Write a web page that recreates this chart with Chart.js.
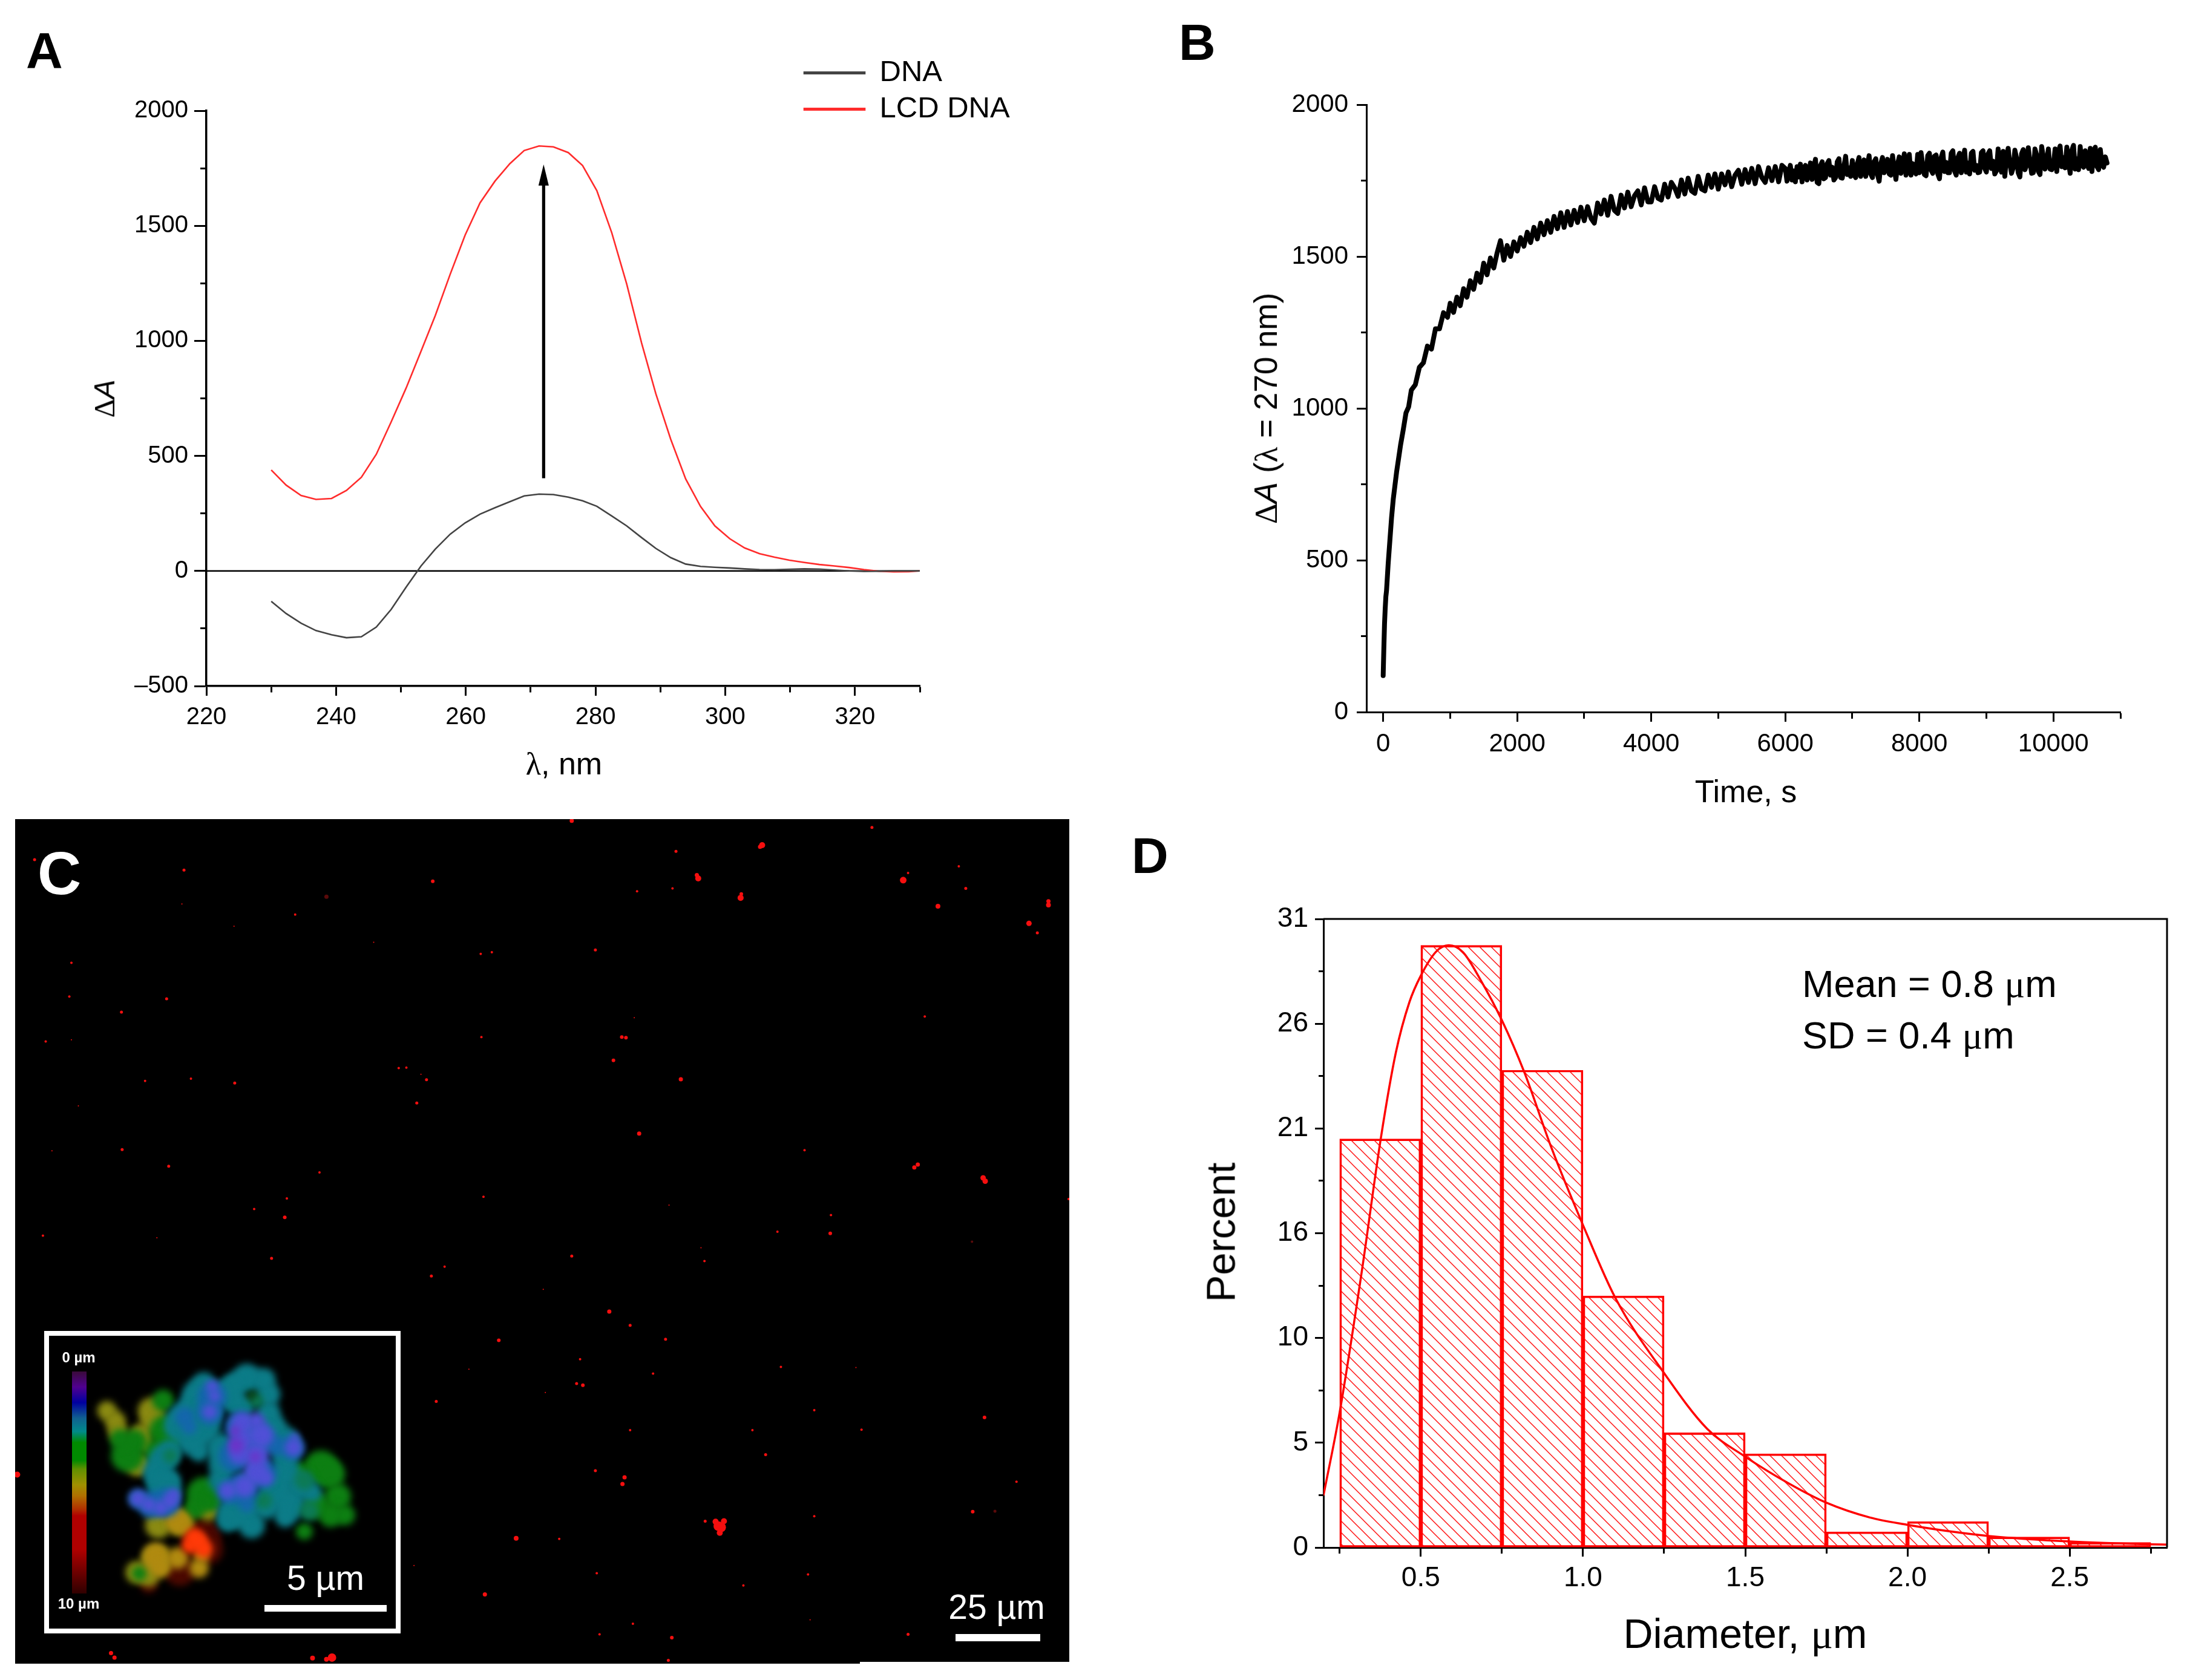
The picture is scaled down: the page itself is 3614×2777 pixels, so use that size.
<!DOCTYPE html>
<html><head><meta charset="utf-8">
<script src="https://cdn.jsdelivr.net/npm/chart.js@4"></script>
<style>
html,body{margin:0;padding:0;background:#fff}
#page{position:relative;width:3614px;height:2777px;overflow:hidden;background:#fff;font-family:"Liberation Sans",Arial,sans-serif;color:#000}
canvas{position:absolute;display:block}
.t{position:absolute;white-space:nowrap;line-height:1}
.g{font-family:"Liberation Serif",serif}
</style></head><body><div id="page"></div>
<script>
// ---------- Panel A: spectra ----------
const wavelengths=[230,232.3,234.6,236.9,239.3,241.6,243.9,246.2,248.5,250.8,253.1,255.3,257.6,259.9,262.2,264.5,266.8,269,271.3,273.5,275.8,278,280.2,282.5,284.8,287.1,289.3,291.6,293.9,296.2,298.4,300.7,303,305.3,307.6,309.9,312.2,314.5,316.8,319.1,321.4,323.7,326,328.3,330];
const dnaValues=[-132,-185,-227,-259,-277,-290,-286,-244,-167,-70,22,95,160,209,247,275,301,326,334,332,321,305,281,239,196,145,98,58,30,20,16,13,9,6,5,7,9,8,4,0,-2,-1,0,0,0];
const lcdValues=[439,373,328,311,315,350,407,507,648,795,955,1110,1290,1460,1600,1694,1770,1827,1847,1843,1818,1762,1653,1470,1248,991,770,572,400,280,196,140,100,75,60,47,37,28,22,15,6,-1,-4,-3,0];
const seriesNames=["DNA","LCD DNA"];
const zeroLineX=[220,330], zeroLineY=[0,0];
const arrowX=[272,272], arrowY=[403,1767];
const aXMajor=[220,240,260,280,300,320], aXMinor=[230,250,270,290,310,330];
const aYMajor=[-500,0,500,1000,1500,2000], aYMinor=[-250,250,750,1250,1750];
// ---------- Panel B: kinetics ----------
const kinTimes=[0,10,20,30,40,50,75,100,125,150,175,200,230,260,300,340,380,420,480,540,600,660,720,780,840,900,960,
1000,1050,1100,1150,1200,1250,1300,1350,1400,1450,1500,1550,1600,1650,1700,1750,1800,1850,1900,1950,
2000,2050,2100,2150,2200,2250,2300,2350,2400,2450,2500,2550,2600,2650,2700,2750,2800,2850,2900,2950,
3000,3050,3100,3150,3200,3250,3300,3350,3400,3450,3500,3550,3600,3650,3700,3750,3800,3850,3900,3950,
4000,4050,4100,4150,4200,4250,4300,4350,4400,4450,4500,4550,4600,4650,4700,4750,4800,4850,4900,4950,
5000,5050,5100,5150,5200,5250,5300,5350,5400,5450,5500,5550,5600,5650,5700,5750,5800,5850,5900,5950,
6000,6025,6050,6075,6100,6125,6150,6175,6200,6225,6250,6275,6300,6325,6350,6375,6400,6425,6450,6475,6500,6525,6550,6575,6600,6625,6650,6675,6700,6725,6750,6775,6800,6825,6850,6875,6900,6925,6950,6975,
7000,7025,7050,7075,7100,7125,7150,7175,7200,7225,7250,7275,7300,7325,7350,7375,7400,7425,7450,7475,7500,7525,7550,7575,7600,7625,7650,7675,7700,7725,7750,7775,7800,7825,7850,7875,7900,7925,7950,7975,
8000,8025,8050,8075,8100,8125,8150,8175,8200,8225,8250,8275,8300,8325,8350,8375,8400,8425,8450,8475,8500,8525,8550,8575,8600,8625,8650,8675,8700,8725,8750,8775,8800,8825,8850,8875,8900,8925,8950,8975,
9000,9025,9050,9075,9100,9125,9150,9175,9200,9225,9250,9275,9300,9325,9350,9375,9400,9425,9450,9475,9500,9525,9550,9575,9600,9625,9650,9675,9700,9725,9750,9775,9800,9825,9850,9875,9900,9925,9950,9975,
10000,10025,10050,10075,10100,10125,10150,10175,10200,10225,10250,10275,10300,10325,10350,10375,10400,10425,10450,10475,10500,10525,10550,10575,10600,10625,10650,10675,10700,10725,10750,10775,10800];
const kinValues=[120,210,290,340,380,400,490,565,640,700,745,790,835,880,930,985,1005,1060,1078,1135,1150,1205,1195,1262,1262,1315,1300,
1346,1316,1366,1338,1394,1366,1420,1392,1445,1415,1478,1440,1495,1462,1512,1552,1488,1536,1500,1548,
1518,1562,1534,1580,1546,1596,1558,1610,1572,1618,1580,1632,1592,1644,1596,1648,1604,1652,1612,1662,
1618,1664,1626,1610,1676,1640,1686,1636,1698,1652,1642,1702,1660,1712,1664,1700,1716,1670,1726,1680,
1680,1730,1692,1686,1738,1696,1744,1726,1698,1752,1706,1758,1716,1708,1764,1722,1716,1768,1728,1772,
1722,1772,1736,1778,1730,1768,1784,1738,1786,1744,1790,1740,1796,1760,1744,1792,1750,1796,1746,1800,
1790,1748,1776,1800,1752,1782,1746,1796,1762,1804,1746,1790,1800,1752,1772,1808,1754,1796,1820,1744,1740,1800,1812,1756,1760,1806,1816,1768,1794,1752,1760,1812,1822,1760,1758,1798,1830,1770,1792,1764,
1816,1770,1760,1806,1826,1764,1796,1818,1764,1800,1832,1772,1760,1812,1822,1770,1748,1806,1826,1776,1790,1820,1772,1768,1832,1790,1754,1804,1828,1774,1802,1838,1768,1790,1836,1768,1806,1780,1772,1836,
1776,1842,1802,1770,1766,1832,1840,1784,1774,1830,1834,1772,1756,1826,1844,1780,1810,1776,1776,1840,1848,1782,1768,1826,1840,1776,1814,1850,1778,1808,1772,1840,1846,1784,1800,1776,1778,1842,1848,1790,
1778,1838,1848,1790,1814,1772,1782,1854,1800,1778,1846,1764,1826,1856,1806,1774,1792,1850,1824,1776,1762,1838,1852,1786,1800,1858,1814,1774,1776,1854,1834,1780,1770,1862,1826,1788,1818,1854,1788,1786,
1800,1854,1780,1846,1864,1796,1826,1792,1860,1812,1774,1850,1866,1788,1822,1786,1862,1800,1794,1848,1808,1790,1856,1780,1846,1860,1796,1786,1852,1802,1794,1828,1808];
const bXMajor=[0,2000,4000,6000,8000,10000], bXMinor=[1000,3000,5000,7000,9000,11000];
const bYMajor=[0,500,1000,1500,2000], bYMinor=[250,750,1250,1750];
// ---------- Panel C: micrograph spots [x, y, radius] ----------
const brightSpots=[[1097,62,5],[1094,65,3.5],[1003,116,3.5],[1005,122,5],[1067,150,3],[1066,157,5],[1300,125,5.5],[1350,172,4],[1509,163,3.5],[1509,170,4],[1481,203,4.5],[1493,220,2.5],[1390,140,2.5],[1380,100,2],[1307,112,2],[1255,30,2.5],[823,18,3.5],[973,73,2.5],[917,145,2],[968,140,2],[623,127,3],[265,107,2.5],[425,187,2],[262,168,1],[50,88,2.5],[857,251,2.5],[708,255,2],[692,258,2],[538,237,1],[337,208,1],[103,274,2],[100,335,2],[175,363,2.5],[240,339,2.5],[66,416,2],[103,413,1],[693,408,2],[895,408,3],[901,409,3],[913,373,1],[883,450,3],[1331,371,2],[980,484,3.5],[574,464,2],[585,463,2],[614,485,2.5],[606,475,1],[275,483,2],[209,487,2],[338,491,2.5],[600,527,2.5],[113,532,1],[1158,612,2],[920,582,3.5],[176,611,2.5],[75,613,1],[243,641,2.5],[1321,638,3.5],[1316,643,3.5],[1415,662,4.5],[1418,668,4.5],[460,652,2],[696,696,2],[413,699,2],[366,718,2],[410,733,3],[963,711,1],[1195,762,3],[1196,729,2],[1119,759,2],[1009,788,1],[1014,812,2],[823,803,2.5],[62,766,2],[226,770,1],[391,807,2.5],[621,839,2.5],[640,822,2],[782,863,1],[877,903,3.5],[907,928,2.5],[718,955,3],[958,953,2.5],[835,989,2],[1124,1003,2],[675,1007,1],[940,1015,2],[1232,1004,1],[830,1033,2.5],[839,1036,3],[628,1065,2.5],[785,1049,1],[1172,1081,2],[1417,1094,3],[1083,1117,2],[907,1117,2],[1240,1116,2],[1102,1161,2.5],[857,1190,2.5],[899,1202,3.5],[896,1214,3.5],[1463,1210,2],[25,1197,5],[1030,1282,5],[1038,1292,8],[1036,1302,5],[1042,1281,5],[1034,1290,8],[1015,1281,2.5],[743,1312,4],[805,1313,2],[1172,1272,2],[1400,1264,3],[596,1361,1],[859,1375,2],[1163,1377,2],[1070,1397,2],[698,1413,3.5],[911,1466,2],[1166,1459,1],[1307,1485,2.5],[863,1485,2],[967,1491,3],[962,1532,2.5],[160,1519,3.5],[165,1527,3.5],[478,1527,7],[470,1530,4],[450,1528,4],[1538,700,2]];
const dimSpots=[[470,155,3.5],[1399,777,2],[1432,1263,2.5]];
// Inset blob, layered from bottom to top: [x, y, radius]
const blobDarkRed=[[690,1040,32],[600,1200,26],[720,1100,24],[470,1270,14]];
const blobOlive=[[295,420,16],[330,470,17],[340,520,16],[480,420,22],[490,470,20],[440,540,20],[460,590,12],[420,690,17],[440,680,15],[420,1210,19],[470,1230,17],[500,1150,24],[720,910,17],[680,890,12],[510,980,22],[600,960,22]];
const blobGreen=[[380,640,27],[410,570,20],[350,560,17],[530,370,18],[540,520,27],[560,560,18],[700,830,29],[660,900,17],[740,860,14],[1190,700,29],[1230,730,24],[1260,840,22],[1290,930,17],[1230,930,20],[1120,1010,14],[1170,880,22],[1100,720,17],[500,620,20],[430,1215,12]];
const blobOrange=[[600,970,20],[580,950,14],[500,1130,22],[680,1190,16],[590,1140,18],[520,1190,16],[690,1130,12]];
const blobRed=[[660,1040,16],[640,1080,13],[700,1095,15],[680,1060,14]];
const blobTeal=[[880,260,24],[950,270,20],[830,290,20],[970,340,20],[700,290,20],[670,340,24],[660,410,28],[610,460,26],[590,500,22],[700,500,28],[720,430,22],[650,560,26],[680,620,16],[560,620,20],[530,660,24],[500,720,22],[520,770,24],[560,760,17],[540,810,26],[970,430,20],[990,500,22],[830,380,20],[800,330,24],[870,400,17],[770,600,24],[780,680,24],[770,760,20],[1040,560,22],[1040,640,22],[1040,720,24],[1000,800,28],[820,920,26],[800,960,17],[900,980,22],[860,900,28],[960,880,24],[1100,790,22],[1060,880,26],[1040,940,17],[1150,820,17]];
const blobSea=[[1120,760,16],[1140,910,16],[950,860,14],[560,640,12],[920,370,12]];
const blobHole=[[900,345,8],[885,465,4],[850,725,5]];
const blobBlue=[[620,450,16],[735,350,24],[725,425,22],[640,500,12],[850,500,25],[930,560,27],[830,640,27],[940,720,25],[860,800,27],[1070,600,20],[800,820,18],[1000,590,17],[880,880,12],[480,880,22],[540,870,24],[425,850,16]];
const blobViolet=[[735,300,10],[745,350,10],[725,425,12],[860,480,18],[920,470,14],[940,540,20],[860,560,18],[850,630,18],[920,640,20],[920,720,20],[960,750,12],[870,790,18],[800,810,14],[1075,600,14],[1080,550,7],[425,850,13],[470,880,12],[520,895,12],[560,860,13],[575,830,10]];
const blobPurple=[[835,590,13],[915,645,9],[830,520,9]];
// ---------- Panel D: histogram ----------
const binCentres=[0.375,0.625,0.875,1.125,1.375,1.625,1.875,2.125,2.375,2.625];
const binPercent=[20.15,29.7,23.54,12.41,5.66,4.62,0.77,1.28,0.52,0.25];
const fitX=[0.2,0.25,0.318,0.377,0.423,0.465,0.5,0.548,0.586,0.63,0.684,0.75,0.82,0.903,1.0,1.1,1.25,1.383,1.5,1.633,1.75,1.884,2.0,2.134,2.25,2.5,2.75,2.8];
const fitY=[2.57,6.67,13.6,20.2,24.4,26.9,28.2,29.4,29.7,29.36,28.0,26.0,23.4,19.7,15.9,12.3,8.6,5.85,4.48,3.17,2.21,1.48,1.12,0.79,0.57,0.3,0.16,0.14];
const dXMajor=[0.5,1,1.5,2,2.5], dXMinor=[0.25,0.75,1.25,1.75,2.25,2.75];
const dYMajor=[0,5.167,10.333,15.5,20.667,25.833,31], dYLabels=["0","5","10","16","21","26","31"], dYMinor=[2.583,7.75,12.917,18.083,23.25,28.417];

// ---------- helpers ----------
const page=document.getElementById('page');
const FONT='"Liberation Sans", Arial, sans-serif';
Chart.defaults.font.family=FONT;
Chart.defaults.color='#000';
function makeCanvas(l,t,w,h,bg){const c=document.createElement('canvas');c.width=w;c.height=h;c.style.cssText=`left:${l}px;top:${t}px;width:${w}px;height:${h}px;`+(bg?`background:${bg};`:'');page.appendChild(c);return c;}
function placed(plot,pad){return makeCanvas(plot.l-pad.l,plot.t-pad.t,plot.r-plot.l+pad.l+pad.r,plot.b-plot.t+pad.t+pad.b);}
function pairs(xs,ys){return xs.map((x,i)=>({x,y:ys[i]}));}
function bubbles(a){return a.map(p=>({x:p[0],y:p[1],r:p[2]}));}
const TL=17, TM=9;
function axisX(min,max,majors,minors,fmt,o){o=o||{};const tl=o.tl||TL,tm=o.tm||TM;return {type:'linear',min,max,offset:false,
 afterFit:s=>{s.height=o.h;},
 afterBuildTicks:s=>{s.ticks=[...majors,...minors].sort((a,b)=>a-b).map(value=>({value}));},
 border:{color:'#000',width:o.w||3},
 grid:{drawOnChartArea:false,offset:false,tickLength:tl,tickColor:'#000',tickWidth:o.tw||3,tickBorderDash:c=>majors.includes(c.tick.value)?[]:[tm,100]},
 ticks:{autoSkip:false,maxRotation:0,minRotation:0,padding:o.p,font:{size:o.size},color:'#000',callback:v=>majors.includes(v)?fmt(v):''}};}
function axisY(min,max,majors,minors,fmt,o){o=o||{};const tl=o.tl||TL,tm=o.tm||TM;return {type:'linear',min,max,
 afterFit:s=>{s.width=o.h;},
 afterBuildTicks:s=>{s.ticks=[...majors,...minors].sort((a,b)=>a-b).map(value=>({value}));},
 border:{color:'#000',width:o.w||3},
 grid:{drawOnChartArea:false,tickLength:tl,tickColor:'#000',tickWidth:o.tw||3,tickBorderDash:c=>majors.includes(c.tick.value)?[]:[0,tl-tm,tm,100]},
 ticks:{autoSkip:false,padding:o.p,font:{size:o.size},color:'#000',callback:v=>majors.includes(v)?fmt(v):''}};}
const base={responsive:false,animation:false,devicePixelRatio:1,events:[]};
function lbl(html,x,base,size,opt){opt=opt||{};const d=document.createElement('div');d.className='t';d.innerHTML=html;
 d.style.cssText=`left:${x}px;top:${base-0.8465*size}px;font-size:${size}px;font-weight:${opt.bold?'bold':'normal'};color:${opt.color||'#000'};`+(opt.center?'transform:translateX(-50%);':'');page.appendChild(d);}
function vlbl(html,x,y,size){const d=document.createElement('div');d.className='t';d.innerHTML=html;
 d.style.cssText=`left:${x}px;top:${y}px;font-size:${size}px;transform:translate(-50%,-50%) rotate(-90deg);`;page.appendChild(d);}
function box(l,t,w,h,css){const d=document.createElement('div');d.style.cssText=`position:absolute;left:${l}px;top:${t}px;width:${w}px;height:${h}px;box-sizing:border-box;`+css;page.appendChild(d);}

// ---------- Panel A ----------
{
 const plot={l:341,t:183,r:1520,b:1134}, pad={l:240,t:170,r:240,b:100};
 const arrowPlugin={id:'arrow',afterDatasetsDraw(ch){const c=ch.ctx,x=ch.scales.x,y=ch.scales.y;
   const x0=x.getPixelForValue(arrowX[0]),y0=y.getPixelForValue(arrowY[0]),x1=x.getPixelForValue(arrowX[1]),y1=y.getPixelForValue(arrowY[1]);
   c.save();c.strokeStyle='#000';c.fillStyle='#000';c.lineWidth=5.2;c.beginPath();c.moveTo(x0,y0);c.lineTo(x1,y1+20);c.stroke();
   c.beginPath();c.moveTo(x1,y1);c.lineTo(x1-8.5,y1+35);c.lineTo(x1+8.5,y1+35);c.closePath();c.fill();c.restore();}};
 const legendPlace={id:'legendPlace',beforeDraw(ch){const L=ch.legend;L.left=1318-ch.canvas.offsetLeft;L.right=L.left+400;L.top=85-ch.canvas.offsetTop;L.bottom=L.top+170;}};
 new Chart(placed(plot,pad),{type:'line',plugins:[arrowPlugin,legendPlace],data:{datasets:[
  {label:seriesNames[0],data:pairs(wavelengths,dnaValues),borderColor:'#444444',backgroundColor:'#444444',borderWidth:2.6,pointRadius:0,tension:0},
  {label:seriesNames[1],data:pairs(wavelengths,lcdValues),borderColor:'#ff2c2c',backgroundColor:'#ff2c2c',borderWidth:2.6,pointRadius:0,tension:0},
  {label:'zero',data:pairs(zeroLineX,zeroLineY),borderColor:'#000',borderWidth:2.4,pointRadius:0}
 ]},options:{...base,layout:{padding:{top:pad.t,right:pad.r,left:0,bottom:0}},
  plugins:{legend:{position:'chartArea',align:'start',labels:{boxWidth:100,boxHeight:2.6,padding:11,font:{size:49},color:'#000',filter:i=>i.datasetIndex<2}},tooltip:{enabled:false}},
  scales:{x:axisX(220,330,aXMajor,aXMinor,v=>String(v),{h:pad.b,size:40,p:12,w:3.5,tl:16,tm:9}),
          y:axisY(-500,2000,aYMajor,aYMinor,v=>v<0?'\u2013'+(-v):String(v),{h:pad.l,size:40,p:10,w:3.5,tl:20,tm:10})}}});
 lbl('<span class="g">\u03bb</span>, nm',932,1280,52,{center:true});
 vlbl('<span class="g">\u0394</span><i>A</i>',173,659,48);
 lbl('A',43,113,84,{bold:true});
}
// ---------- Panel B ----------
{
 const plot={l:2258,t:173,r:3504,b:1177}, pad={l:240,t:40,r:60,b:100};
 new Chart(placed(plot,pad),{type:'line',data:{datasets:[{label:'\u0394A',data:pairs(kinTimes,kinValues),borderColor:'#000',borderWidth:8,pointRadius:0,tension:0,borderJoinStyle:'round',borderCapStyle:'round'}]},
  options:{...base,layout:{padding:{top:pad.t,right:pad.r,left:0,bottom:0}},plugins:{legend:{display:false},tooltip:{enabled:false}},
  scales:{x:axisX(-250,11000,bXMajor,bXMinor,v=>String(v),{h:pad.b,size:42,p:12,tl:16,tm:9}),
          y:axisY(0,2000,bYMajor,bYMinor,v=>String(v),{h:pad.l,size:42,p:14,tl:16,tm:9})}}});
 lbl('Time, s',2885,1326,52,{center:true});
 vlbl('<span class="g">\u0394</span><i>A</i> (<span class="g">\u03bb</span> = 270 nm)',2092,675,53);
 lbl('B',1948,99,84,{bold:true});
}
// ---------- Panel C ----------
{
 const c=makeCanvas(25,1354,1742,1396,'#000');
 new Chart(c,{type:'bubble',data:{datasets:[
  {label:'spots',data:bubbles(brightSpots),backgroundColor:'#f50f0f',borderWidth:0},
  {label:'dim',data:bubbles(dimSpots),backgroundColor:'#5a0a0a',borderWidth:0}]},
  options:{...base,layout:{padding:0,autoPadding:false},plugins:{legend:{display:false},tooltip:{enabled:false}},
  scales:{x:{type:'linear',min:22,max:1539,display:false},y:{type:'linear',min:15,max:1538,reverse:true,display:false}}}});
 const blurPlugin={id:'blur',beforeDatasetsDraw(ch){ch.ctx.save();ch.ctx.filter='blur(6px)';},afterDatasetsDraw(ch){ch.ctx.restore();}};
 const layers=[[blobDarkRed,'#4a0800'],[blobOlive,'#8a8a12'],[blobGreen,'#0d7f12'],[blobOrange,'#b08a10'],[blobRed,'#ff3a08'],[blobTeal,'#0c7c88'],[blobSea,'#0c7a55'],[blobHole,'#0a4a18'],[blobBlue,'#1466ac'],[blobViolet,'#5050d6'],[blobPurple,'#6a34c8']];
 new Chart(makeCanvas(60,2190,620,530),{type:'bubble',plugins:[blurPlugin],data:{datasets:layers.slice().reverse().map((l,i)=>({label:'layer'+i,data:bubbles(l[0]),backgroundColor:l[1],borderWidth:0}))},
  options:{...base,layout:{padding:0,autoPadding:false},plugins:{legend:{display:false},tooltip:{enabled:false}},
  scales:{x:{type:'linear',min:0,max:1568,display:false},y:{type:'linear',min:0,max:1568,reverse:true,display:false}}}});
 box(73,2200,589,500,'border:8.5px solid #fff;');
 box(118.5,2267,24.5,366.5,'background:linear-gradient(to bottom,#3a0a3a 0%,#500090 7%,#0000a0 14%,#106090 21%,#008a8a 27%,#008a00 32%,#008a00 40%,#609000 44%,#a09000 51%,#b07000 56%,#b03000 62%,#b00000 65%,#b00000 80%,#700000 90%,#300000 100%);');
 box(437,2652.5,202,11.5,'background:#fff;');
 box(1579,2701,140,12,'background:#fff;');
 box(1421,2747,346,3,'background:#fff;');
 lbl('5 \u00b5m',538,2628,57,{center:true,color:'#fff'});
 lbl('0 \u00b5m',130,2252,24,{center:true,color:'#fff',bold:true});
 lbl('10 \u00b5m',130,2659,24,{center:true,color:'#fff',bold:true});
 lbl('25 \u00b5m',1647,2676,57,{center:true,color:'#fff'});
 lbl('C',62,1478,100,{bold:true,color:'#fff'});
}
// ---------- Panel D ----------
{
 const plot={l:2187,t:1519,r:3581,b:2558}, pad={l:170,t:40,r:33,b:100};
 const cv=placed(plot,pad);
 const tile=document.createElement('canvas');tile.width=19;tile.height=19;
 const t=tile.getContext('2d');t.strokeStyle='#ff1414';t.lineWidth=1.5;
 [[-2,-2,21,21],[-21,-2,2,21],[17,-2,40,21]].forEach(s=>{t.beginPath();t.moveTo(s[0],s[1]);t.lineTo(s[2],s[3]);t.stroke();});
 const hatch=cv.getContext('2d').createPattern(tile,'repeat');
 const frame={id:'frame',afterDraw(ch){const c=ch.ctx,a=ch.chartArea;c.save();c.strokeStyle='#000';c.lineWidth=3;c.beginPath();c.moveTo(a.left,a.top);c.lineTo(a.right,a.top);c.lineTo(a.right,a.bottom);c.stroke();c.restore();}};
 new Chart(cv,{type:'bar',plugins:[frame],data:{datasets:[
  {type:'line',label:'Fit',order:0,data:pairs(fitX,fitY),borderColor:'#ff0000',borderWidth:3.5,pointRadius:0,cubicInterpolationMode:'monotone'},
  {type:'bar',label:'Percent',order:1,data:pairs(binCentres,binPercent),backgroundColor:hatch,borderColor:'#ff0000',borderWidth:3,borderSkipped:false,barPercentage:1,categoryPercentage:1}
 ]},options:{...base,layout:{padding:{top:pad.t,right:pad.r,left:0,bottom:0}},plugins:{legend:{display:false},tooltip:{enabled:false}},
  scales:{x:axisX(0.2,2.8,dXMajor,dXMinor,v=>v.toFixed(1),{h:pad.b,size:46,p:9,tl:15,tm:8}),
          y:axisY(0,31,dYMajor,dYMinor,v=>dYLabels[dYMajor.indexOf(v)],{h:pad.l,size:46,p:11,tl:14,tm:8})}}});
 lbl('Diameter, <span class="g">\u03bc</span>m',2884,2724,68,{center:true});
 vlbl('Percent',2017,2037,67);
 lbl('Mean = 0.8 <span class="g">\u03bc</span>m',2978,1648,63);
 lbl('SD = 0.4 <span class="g">\u03bc</span>m',2978,1733,63);
 lbl('D',1870,1443,84,{bold:true});
}
</script></body></html>
